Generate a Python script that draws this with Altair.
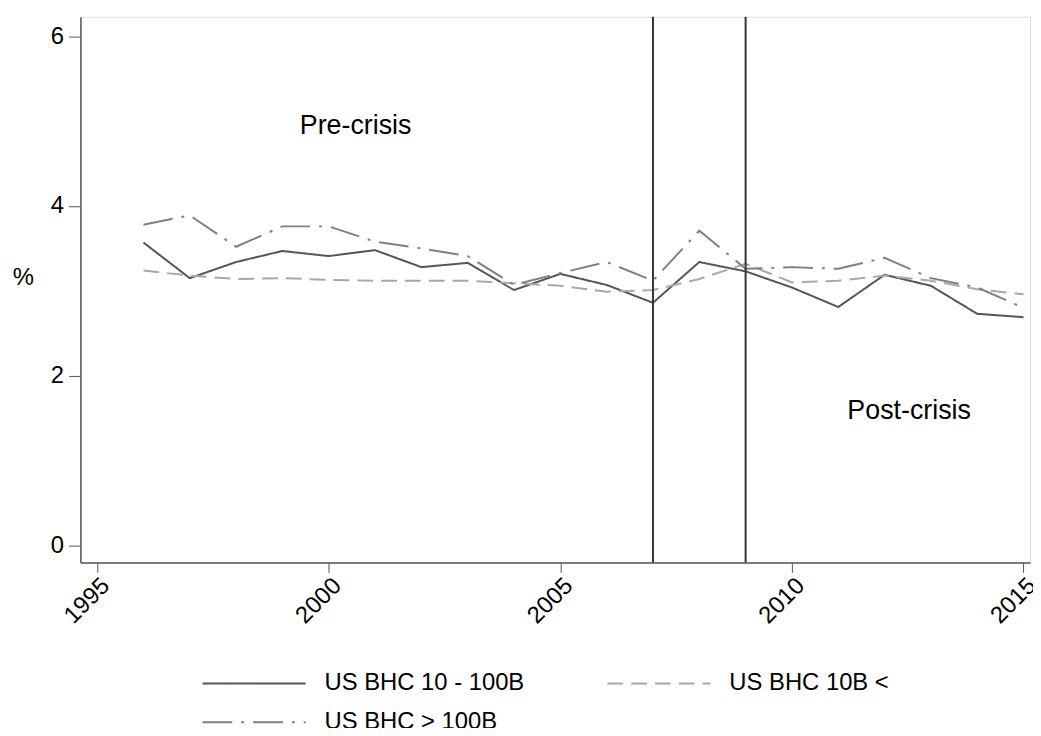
import altair as alt
import pandas as pd

years = list(range(1996, 2016))
series_names = ["US BHC 10 - 100B", "US BHC 10B <", "US BHC > 100B"]
mid = [3.57, 3.15, 3.34, 3.47, 3.41, 3.48, 3.28, 3.33, 3.01, 3.20,
       3.07, 2.86, 3.34, 3.23, 3.04, 2.81, 3.19, 3.06, 2.73, 2.69]
small = [3.24, 3.18, 3.14, 3.15, 3.13, 3.12, 3.12, 3.12, 3.09, 3.06,
         2.99, 3.01, 3.14, 3.32, 3.10, 3.12, 3.18, 3.12, 3.02, 2.96]
large = [3.78, 3.89, 3.52, 3.76, 3.76, 3.58, 3.50, 3.41, 3.07, 3.21,
         3.34, 3.12, 3.71, 3.26, 3.28, 3.26, 3.39, 3.15, 3.04, 2.80]
crisis_years = [2007, 2009]
note_texts = ["Pre-crisis", "Post-crisis"]
note_x = [2000.58, 2012.53]
note_y = [4.94, 1.58]
x_ticks = [1995, 2000, 2005, 2010, 2015]
y_ticks = [0, 2, 4, 6]

rows = []
for name, vals in zip(series_names, [mid, small, large]):
    for yr, v in zip(years, vals):
        rows.append({"year": yr, "value": v, "series": name})
df = pd.DataFrame(rows)

FONT = "Liberation Sans"
xscale = alt.Scale(domain=[1994.64, 2015.14], nice=False, zero=False)
yscale = alt.Scale(domain=[-0.2, 6.23], nice=False, zero=False)

legend_cfg = dict(title=None, orient="none", legendX=163, legendY=660,
                  direction="horizontal",
                  columns=2, symbolType="M-10,0H10", symbolSize=108,
                  symbolStrokeWidth=2, labelFont=FONT,
                  labelFontSize=24, labelColor="#000", labelLimit=400,
                  labelOffset=59, columnPadding=79,
                  rowPadding=15, gridAlign="all")

lines = alt.Chart(df).mark_line(strokeWidth=2).encode(
    x=alt.X("year:Q", scale=xscale,
            axis=alt.Axis(values=x_ticks, format="d", title=None, grid=False,
                          labelAngle=-45, labelAlign="right", labelBaseline="top",
                          labelFontSize=24, labelFont=FONT, labelColor="#000",
                          tickSize=10, tickColor="#555", domainColor="#555",
                          domainWidth=1.5, labelPadding=1)),
    y=alt.Y("value:Q", scale=yscale,
            axis=alt.Axis(values=y_ticks, format="d", title="%", titleAngle=0, grid=False,
                          titleFont=FONT, titleFontSize=24, titleFontWeight="normal",
                          titleX=-58, titleY=275, titleAlign="center",
                          labelFontSize=24, labelFont=FONT, labelColor="#000",
                          tickSize=12, tickColor="#555", domainColor="#555",
                          domainWidth=1.5, labelPadding=5)),
    color=alt.Color("series:N", sort=series_names,
                    scale=alt.Scale(domain=series_names,
                                    range=["#555555", "#a8a8a8", "#808080"]),
                    legend=alt.Legend(**legend_cfg)),
    strokeDash=alt.StrokeDash("series:N", sort=series_names,
                              scale=alt.Scale(domain=series_names,
                                              range=[[1, 0], [16, 8], [30, 9, 3, 9]]),
                              legend=alt.Legend(**legend_cfg)),
)

rules = alt.Chart(pd.DataFrame({"year": crisis_years})).mark_rule(
    color="#333", strokeWidth=2).encode(x=alt.X("year:Q", scale=xscale))

notes = alt.Chart(pd.DataFrame({"text": note_texts, "x": note_x, "y": note_y})).mark_text(
    font=FONT, fontSize=27, color="#000", align="center", baseline="middle").encode(
    x=alt.X("x:Q", scale=xscale), y=alt.Y("y:Q", scale=yscale), text="text:N")

chart = alt.layer(lines, rules, notes).properties(
    width=957, height=550,
    autosize=alt.AutoSizeParams(type="none"),
    padding={"left": 73, "top": 6, "right": 3, "bottom": 164},
).configure_view(strokeWidth=0).configure(background="white")

chart.save("out.html", embed_options={"renderer": "svg", "actions": False})
